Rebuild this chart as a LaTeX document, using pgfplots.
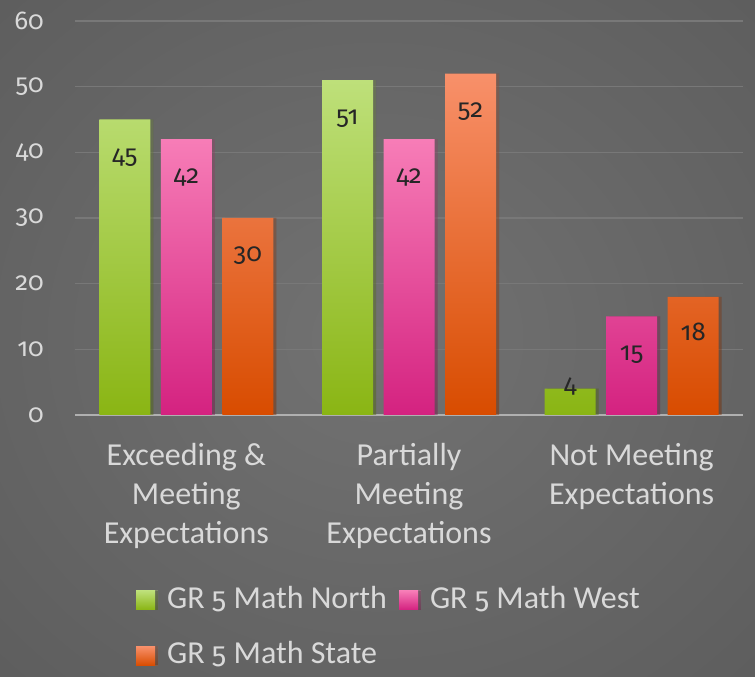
\documentclass[border=0pt]{standalone}
\usepackage{pgfplots}
\pgfplotsset{compat=1.18}
\usepackage{pgfplotstable}
\usepackage{fontspec}
\setmainfont{Carlito}
\newfontfamily\numfont{Fira Sans}[Numbers={OldStyle,Proportional}, Scale=0.92]
\usetikzlibrary{shadows}
\definecolor{bgin}{RGB}{114,114,114}
\definecolor{bgmid}{RGB}{94,94,94}
\definecolor{bgout}{RGB}{66,66,66}
\definecolor{gtop}{RGB}{190,224,122}
\definecolor{gbot}{RGB}{138,181,20}
\definecolor{ptop}{RGB}{247,125,183}
\definecolor{pbot}{RGB}{212,34,128}
\definecolor{otop}{RGB}{248,144,106}
\definecolor{obot}{RGB}{216,76,0}
\definecolor{lbl}{RGB}{217,217,217}
\definecolor{grd}{RGB}{120,120,120}
\definecolor{axl}{RGB}{176,176,176}
\definecolor{dlbl}{RGB}{38,38,38}
\pgfdeclareradialshading{bgshade}{\pgfpoint{0bp}{0bp}}{color(0bp)=(bgin); color(35bp)=(bgmid); color(72bp)=(bgout)}
\pgfplotstableread{
x north west state dn dw ds
0 45 42 30 -44 -44 -44
1 51 42 52 -44 -44 -44
2 4 15 18 -4 -44 -44
}\mydata
\begin{document}
\begin{tikzpicture}
\useasboundingbox (0,0) rectangle (755pt,677pt);
\shade[shading=bgshade] (0,0) rectangle (755pt,677pt);
\begin{axis}[
  at={(75pt,262pt)}, anchor=south west,
  scale only axis, width=668pt, height=394pt,
  /pgf/number format/assume math mode=true,
  ybar=10.5pt, bar width=51pt,
  xmin=-0.5, xmax=2.5, ymin=0, ymax=60,
  ytick={0,10,...,60},
  xtick=data,
  xticklabels={{Exceeding \&\\Meeting\\Expectations},{Partially\\Meeting\\Expectations},{Not Meeting\\Expectations}},
  axis x line*=bottom,
  axis y line*=left,
  y axis line style={draw=none},
  x axis line style={draw=axl, line width=2pt},
  major tick length=0pt,
  ymajorgrids,
  grid style={draw=grd, line width=1.3pt},
  yticklabel style={font=\numfont\fontsize{28}{32}\selectfont, text=lbl, anchor=east, inner sep=0pt, xshift=-31pt},
  xticklabel style={font=\fontsize{32}{39}\selectfont, text=lbl, align=center, anchor=north, inner sep=0pt, yshift=-28pt},
  nodes near coords,
  nodes near coords style={font=\numfont\fontsize{28}{32}\selectfont, text=dlbl, anchor=base, yshift=\dy pt},
  legend style={at={(0.0913,-0.428)}, anchor=north west, draw=none, fill=none, inner sep=0pt,
    font=\fontsize{32}{39}\selectfont, text=lbl, column sep=10pt, row sep=28pt},
  legend cell align=left,
  legend columns=2,
  legend image code/.code={\fill[#1] (0pt,-12pt) rectangle (19pt,7pt);},
  every axis plot/.append style={draw=none, drop shadow={shadow xshift=3pt, shadow yshift=0pt, fill=black, opacity=0.25}},
]
\addplot[top color=gtop, bottom color=gbot, visualization depends on={\thisrow{dn} \as \dy}] table[x=x, y=north] {\mydata};
\addplot[top color=ptop, bottom color=pbot, visualization depends on={\thisrow{dw} \as \dy}] table[x=x, y=west] {\mydata};
\addplot[top color=otop, bottom color=obot, visualization depends on={\thisrow{ds} \as \dy}] table[x=x, y=state] {\mydata};
\legend{GR {\numfont 5} Math North, GR {\numfont 5} Math West, GR {\numfont 5} Math State}
\end{axis}
\end{tikzpicture}
\end{document}
